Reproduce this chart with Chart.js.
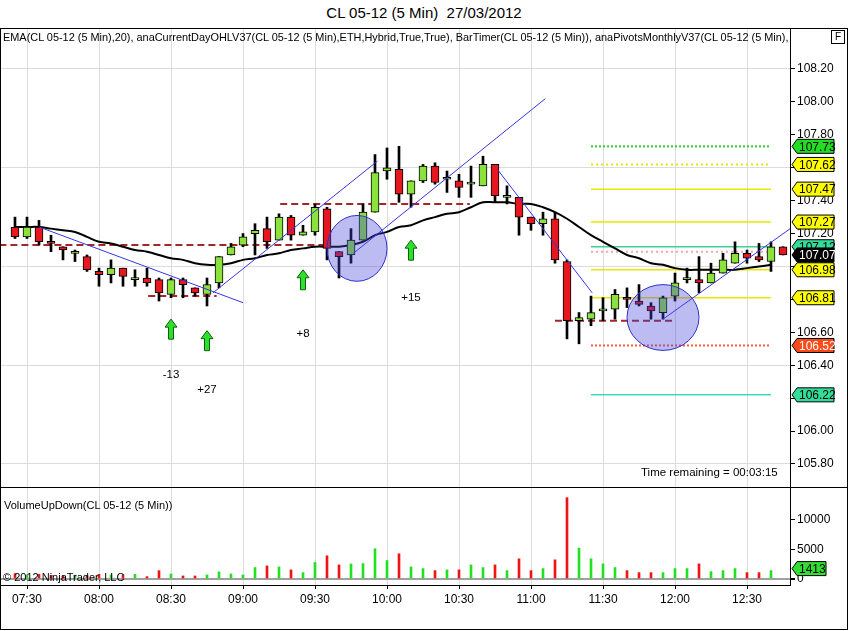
<!DOCTYPE html>
<html>
<head>
<meta charset="utf-8">
<script src="https://cdn.jsdelivr.net/npm/chart.js@4.4.1/dist/chart.umd.min.js"></script>
<style>
  body { margin: 0; background: #fff; font-family: 'Liberation Sans', Arial, sans-serif; }
  #wrap { position: relative; width: 848px; height: 631px; overflow: hidden; background: #fff; }
  #title { position: absolute; left: 0; top: 4px; width: 848px; text-align: center; font-size: 15px; color: #000; }
  #priceChart { position: absolute; left: 0; top: 29px; }
  #volChart { position: absolute; left: 0; top: 488px; }
  .txt { position: absolute; font-size: 11px; color: #000; white-space: nowrap; }
  #header { left: 3px; top: 31px; width: 785px; overflow: hidden; font-size: 10.92px; }
  #fbox { position: absolute; left: 831px; top: 30px; width: 12px; height: 12px; border: 1px solid #000; font-size: 10px; text-align: center; line-height: 12px; }
  .hline { position: absolute; background: #000; height: 1px; }
  .vline { position: absolute; background: #000; width: 1px; }
</style>
</head>
<body>
<div id="wrap">
  <div id="title">CL 05-12 (5 Min)&nbsp; 27/03/2012</div>
  <canvas id="priceChart" width="848" height="458"></canvas>
  <canvas id="volChart" width="848" height="140"></canvas>
  <div class="txt" id="header">EMA(CL 05-12 (5 Min),20), anaCurrentDayOHLV37(CL 05-12 (5 Min),ETH,Hybrid,True,True), BarTimer(CL 05-12 (5 Min)), anaPivotsMonthlyV37(CL 05-12 (5 Min),|</div>
  <div id="fbox">F</div>
  <div class="txt" style="left:641px; top:466px; font-size:11.5px;">Time remaining = 00:03:15</div>
  <div class="txt" style="left:4px; top:499px;">VolumeUpDown(CL 05-12 (5 Min))</div>
  <div class="txt" style="left:3px; top:571px;">© 2012 NinjaTrader, LLC</div>
  <div class="hline" style="left:0; top:28px; width:848px;"></div>
  <div class="hline" style="left:0; top:487px; width:848px;"></div>
  <div class="hline" style="left:0; top:629px; width:848px;"></div>
  <div class="vline" style="left:0; top:28px; height:602px;"></div>
  <div class="vline" style="left:847px; top:28px; height:602px;"></div>
</div>
<script>
// bar times (5 min)
const categories = ['07:25','07:30','07:35','07:40','07:45','07:50','07:55','08:00','08:05','08:10','08:15','08:20','08:25','08:30','08:35','08:40','08:45','08:50','08:55','09:00','09:05','09:10','09:15','09:20','09:25','09:30','09:35','09:40','09:45','09:50','09:55','10:00','10:05','10:10','10:15','10:20','10:25','10:30','10:35','10:40','10:45','10:50','10:55','11:00','11:05','11:10','11:15','11:20','11:25','11:30','11:35','11:40','11:45','11:50','11:55','12:00','12:05','12:10','12:15','12:20','12:25','12:30','12:35','12:40','12:45'];
const timeTicks = ['07:30','08:00','08:30','09:00','09:30','10:00','10:30','11:00','11:30','12:00','12:30'];
const priceTicks = [105.80, 106.00, 106.20, 106.40, 106.60, 106.80, 107.00, 107.20, 107.40, 107.60, 107.80, 108.00, 108.20];
const priceGrid = [105.80, 106.40, 107.00, 107.60, 108.20];
const volTicks = [0, 5000, 10000];

const opens = [107.24,107.18,107.24,107.15,107.12,107.08,107.06,106.97,106.95,106.99,
  106.92,106.93,106.92,106.83,106.92,106.87,106.83,106.90,107.07,107.13,
  107.20,107.23,107.16,107.30,107.19,107.21,107.35,107.09,107.07,107.16,
  107.33,107.58,107.59,107.44,107.52,107.61,107.53,107.52,107.50,107.49,
  107.62,107.42,107.42,107.30,107.26,107.29,107.03,106.67,106.68,106.73,
  106.74,106.81,106.79,106.76,106.72,106.82,106.92,106.92,106.90,106.96,
  107.02,107.08,107.06,107.03,107.12];
const highs = [107.30,107.30,107.28,107.19,107.12,107.10,107.07,106.99,107.04,106.99,
  106.98,106.99,106.93,106.93,106.93,106.87,106.93,107.06,107.14,107.20,
  107.26,107.30,107.32,107.31,107.25,107.38,107.36,107.09,107.23,107.38,
  107.68,107.72,107.73,107.52,107.62,107.63,107.58,107.56,107.61,107.67,
  107.62,107.49,107.42,107.30,107.33,107.33,107.04,106.72,106.82,106.81,
  106.86,106.87,106.89,106.78,106.82,106.96,106.99,107.06,107.02,107.08,
  107.15,107.10,107.14,107.15,107.12];
const lows = [107.17,107.17,107.13,107.09,107.04,107.03,106.97,106.88,106.90,106.88,
  106.88,106.88,106.79,106.81,106.81,106.82,106.76,106.87,107.07,107.12,
  107.07,107.11,107.16,107.16,107.19,107.19,107.04,106.93,107.02,107.16,
  107.33,107.53,107.39,107.36,107.51,107.50,107.45,107.42,107.42,107.49,
  107.39,107.38,107.19,107.22,107.19,107.02,106.56,106.53,106.64,106.67,
  106.68,106.75,106.76,106.68,106.68,106.79,106.90,106.84,106.90,106.96,
  107.02,107.02,107.03,106.97,107.07];
const closes = [107.18,107.24,107.15,107.14,107.10,107.08,106.98,106.95,106.99,106.94,
  106.92,106.90,106.84,106.92,106.89,106.84,106.89,107.06,107.12,107.18,
  107.22,107.15,107.30,107.19,107.21,107.36,107.11,107.06,107.16,107.33,
  107.57,107.60,107.44,107.52,107.61,107.51,107.53,107.48,107.50,107.62,
  107.43,107.43,107.30,107.26,107.29,107.04,106.67,106.69,106.72,106.73,
  106.83,106.80,106.77,106.73,106.81,106.90,106.92,106.90,106.96,107.04,
  107.08,107.05,107.04,107.12,107.07];
const ema20 = [107.24,107.24,107.24,107.23,107.22,107.21,107.18,107.15,107.14,107.12,
  107.10,107.09,107.07,107.05,107.04,107.02,107.01,107.01,107.02,107.04,
  107.05,107.07,107.08,107.10,107.11,107.12,107.12,107.12,107.13,107.15,
  107.19,107.21,107.24,107.25,107.28,107.30,107.32,107.33,107.36,107.39,
  107.39,107.39,107.38,107.38,107.36,107.33,107.29,107.24,107.19,107.15,
  107.11,107.07,107.05,107.02,107.01,106.99,106.98,106.98,106.98,106.98,
  106.98,106.99,107.00,107.01];
const volumes = [900,700,790,600,500,650,550,790,680,680,
  790,400,1410,850,510,510,680,1190,850,680,
  1920,2200,2030,1530,1070,2770,3900,2370,2540,2600,
  5090,3110,4240,2030,1750,1410,1530,1530,2370,1920,
  2370,1410,3390,1410,1750,3220,13670,5200,3390,2540,
  1920,1410,1070,1070,1070,1750,1750,2540,1240,1410,
  1750,1070,1070,1413];

// current day OHL segments: [from bar, to bar, price]
const dayLevels = [[-1.3, 26.3, 107.13], [11.1, 16.8, 106.82], [22.1, 37.9, 107.38], [45.0, 54.8, 106.67]];
// monthly pivots (drawn from bar 48 to bar 63)
const pivotPrices = [107.73, 107.62, 107.47, 107.27, 107.12, 107.09, 106.98, 106.81, 106.52, 106.22];
const pivotFrom = 48, pivotTo = 63;
// trend lines: [bar, price, bar, price]
const trendLines = [[2.0, 107.24, 19.0, 106.78], [16.5, 106.84, 30.2, 107.64], [28.2, 107.08, 44.2, 108.02],
  [40.2, 107.59, 48.1, 106.84], [54.0, 106.68, 64.8, 107.24]];
// highlighted zones: [bar, price, half width in bars, half height in price]
const zones = [[28.5, 107.11, 2.5, 0.20], [54.0, 106.69, 3.0, 0.20]];
// signal arrows
const signalBars = [13, 16, 24, 33];
const signalPrices = [106.68, 106.61, 106.98, 107.16];
const signalText = ['-13', '+27', '+8', '+15'];
const signalTextPrices = [106.34, 106.25, 106.59, 106.81];
// price markers on the axis
const markerPrices = [107.73, 107.62, 107.47, 107.27, 107.12, 106.98, 106.81, 106.52, 106.22, 107.07];

const xMin = -1.1667, xMax = 64.5833;
const tickIdx = timeTicks.map(t => categories.indexOf(t));

const RED = '#E4181E', GREEN = '#8BE23C';
const pivotColors = ['#33CC33', '#E8E800', '#E8E800', '#E8E800', '#3CCF9A', '#F0A8A8', '#E8E800', '#E8E800', '#FF5A3A', '#40D8C0'];
const pivotDash = [[2, 2], [2, 3], [], [], [], [2, 3], [], [], [2, 2], []];
const markerFill = ['#22DD22', '#FFFF00', '#FFFF00', '#FFFF00', '#33DD99', '#FFFF00', '#FFFF00', '#FF4A1A', '#33DD99', '#000000'];
const markerText = ['#000', '#000', '#000', '#000', '#000', '#000', '#000', '#fff', '#000', '#fff'];

Chart.defaults.font.family = "'Liberation Sans', Arial, sans-serif";
Chart.defaults.font.size = 12;
Chart.defaults.color = '#000';

function drawTag(ctx, y, w, fill, txtColor, text) {
    ctx.beginPath();
    ctx.moveTo(792, y);
    ctx.lineTo(797, y - 7);
    ctx.lineTo(792 + w, y - 7);
    ctx.lineTo(792 + w, y + 7);
    ctx.lineTo(797, y + 7);
    ctx.closePath();
    ctx.fillStyle = fill;
    ctx.fill();
    ctx.strokeStyle = '#000';
    ctx.lineWidth = 1;
    ctx.stroke();
    ctx.fillStyle = txtColor;
    ctx.font = "12px 'Liberation Sans', Arial";
    ctx.textAlign = 'left';
    ctx.textBaseline = 'middle';
    ctx.fillText(text, 799, y + 1);
}

// no edge padding, so the plot fills the whole canvas height
function noPad(s) {
    s.paddingTop = 0;
    s.paddingBottom = 0;
    s.paddingLeft = 0;
    s.paddingRight = 0;
}

const overlay = {
    id: 'overlay',
    afterDatasetsDraw(chart) {
        const { ctx, scales: { x, y } } = chart;
        ctx.save();
        // zones
        zones.forEach(z => {
            const cx = x.getPixelForValue(z[0]), cy = y.getPixelForValue(z[1]);
            const rx = x.getPixelForValue(z[0] + z[2]) - cx;
            const ry = cy - y.getPixelForValue(z[1] + z[3]);
            ctx.beginPath();
            ctx.ellipse(cx, cy, rx, ry, 0, 0, Math.PI * 2);
            ctx.fillStyle = 'rgba(70, 70, 220, 0.36)';
            ctx.fill();
            ctx.strokeStyle = '#3030C8';
            ctx.lineWidth = 1;
            ctx.stroke();
        });
        // arrows and labels
        signalBars.forEach((b, k) => {
            const px = x.getPixelForValue(b), py = y.getPixelForValue(signalPrices[k]);
            ctx.beginPath();
            ctx.moveTo(px, py);
            ctx.lineTo(px + 6, py + 8);
            ctx.lineTo(px + 2.5, py + 8);
            ctx.lineTo(px + 2.5, py + 20);
            ctx.lineTo(px - 2.5, py + 20);
            ctx.lineTo(px - 2.5, py + 8);
            ctx.lineTo(px - 6, py + 8);
            ctx.closePath();
            ctx.fillStyle = '#2EE02E';
            ctx.fill();
            ctx.strokeStyle = '#0B600B';
            ctx.stroke();
            ctx.fillStyle = '#000';
            ctx.font = "11.5px 'Liberation Sans', Arial";
            ctx.textAlign = 'center';
            ctx.textBaseline = 'middle';
            ctx.fillText(signalText[k], px, y.getPixelForValue(signalTextPrices[k]));
        });
        ctx.restore();
    },
    afterDraw(chart) {
        const { ctx, scales: { y } } = chart;
        ctx.save();
        markerPrices.forEach((p, k) => {
            drawTag(ctx, y.getPixelForValue(p), 42, markerFill[k], markerText[k], p.toFixed(2));
        });
        ctx.restore();
    }
};

const lineSet = (pts, color, width, dash, order) => ({
    type: 'line', data: pts, borderColor: color, borderWidth: width, borderDash: dash,
    pointRadius: 0, fill: false, order: order
});

const datasets = [
    {
        label: 'bodies',
        data: opens.map((o, i) => ({ x: i, y: [o, closes[i]] })),
        backgroundColor: opens.map((o, i) => closes[i] >= o ? GREEN : RED),
        borderColor: '#000', borderWidth: 1, borderSkipped: false,
        barThickness: 8, minBarLength: 2, grouped: false, order: 1
    },
    {
        label: 'wicks',
        data: lows.map((l, i) => ({ x: i, y: [l, highs[i]] })),
        backgroundColor: '#000', borderWidth: 0,
        barThickness: 2, grouped: false, order: 2
    },
    Object.assign(lineSet(ema20.map((v, i) => ({ x: i, y: v })), '#000', 2, [], 3), { tension: 0.4 })
];
dayLevels.forEach(d => datasets.push(lineSet([{ x: d[0], y: d[2] }, { x: d[1], y: d[2] }], '#A3262A', 2, [7, 4], 4)));
pivotPrices.forEach((p, k) => datasets.push(lineSet([{ x: pivotFrom, y: p }, { x: pivotTo, y: p }], pivotColors[k], pivotDash[k].length ? 2 : 1.5, pivotDash[k], 5)));
trendLines.forEach(t => datasets.push(lineSet([{ x: t[0], y: t[1] }, { x: t[2], y: t[3] }], '#3535E6', 1, [], 0)));

new Chart(document.getElementById('priceChart'), {
    type: 'bar',
    data: { datasets },
    options: {
        responsive: false,
        animation: false,
        layout: { padding: { left: 1, right: 0, top: 0, bottom: 0 } },
        plugins: { legend: { display: false }, tooltip: { enabled: false } },
        scales: {
            x: {
                type: 'linear', min: xMin, max: xMax, offset: false,
                afterBuildTicks: s => { s.ticks = tickIdx.map(v => ({ value: v })); },
                afterFit: s => { s.height = 0; noPad(s); },
                ticks: { display: false },
                grid: { color: '#DCDCDC', drawTicks: false, offset: false },
                border: { display: false }
            },
            y: {
                position: 'right', min: 105.660, max: 108.443,
                afterBuildTicks: s => { s.ticks = priceTicks.map(v => ({ value: v })); },
                afterFit: s => { s.width = 58; noPad(s); },
                ticks: { callback: v => v.toFixed(2), padding: 2, font: { size: 12 } },
                grid: {
                    color: c => priceGrid.some(g => Math.abs(g - c.tick.value) < 0.001) ? '#DCDCDC' : 'transparent',
                    tickColor: '#000', tickLength: 5
                },
                border: { color: '#000' }
            }
        }
    },
    plugins: [overlay]
});

const volTag = {
    id: 'volTag',
    afterDraw(chart) {
        const { ctx, scales: { y } } = chart;
        const last = volumes[volumes.length - 1];
        ctx.save();
        drawTag(ctx, y.getPixelForValue(last) - 2, 34, '#33DD33', '#000', String(last));
        ctx.restore();
    }
};

new Chart(document.getElementById('volChart'), {
    type: 'bar',
    data: {
        datasets: [{
            data: volumes.map((v, i) => ({ x: i, y: v })),
            backgroundColor: volumes.map((v, i) => closes[i] >= opens[i] ? '#22E022' : '#EE1414'),
            barThickness: 2, grouped: false
        }]
    },
    options: {
        responsive: false,
        animation: false,
        layout: { padding: { left: 1, right: 0, top: 0, bottom: 0 } },
        plugins: { legend: { display: false }, tooltip: { enabled: false } },
        scales: {
            x: {
                type: 'linear', min: xMin, max: xMax, offset: false,
                afterBuildTicks: s => { s.ticks = tickIdx.map(v => ({ value: v })); },
                afterFit: s => { s.height = 43; s.paddingLeft = 0; s.paddingRight = 0; },
                ticks: { callback: v => categories[v], maxRotation: 0, autoSkip: false, padding: 3, font: { size: 12 } },
                grid: { color: '#DCDCDC', tickColor: '#000', tickLength: 4, offset: false },
                border: { color: '#000' }
            },
            y: {
                position: 'right', min: -1008, max: 15294,
                afterBuildTicks: s => { s.ticks = volTicks.map(v => ({ value: v })); },
                afterFit: s => { s.width = 58; noPad(s); },
                ticks: { callback: v => String(v), padding: 2, font: { size: 12 } },
                grid: {
                    color: c => c.tick.value === 0 ? '#A0A0A0' : 'transparent',
                    lineWidth: c => c.tick.value === 0 ? 2 : 1,
                    tickColor: '#000', tickLength: 5
                },
                border: { color: '#000' }
            }
        }
    },
    plugins: [volTag]
});
</script>
</body>
</html>
